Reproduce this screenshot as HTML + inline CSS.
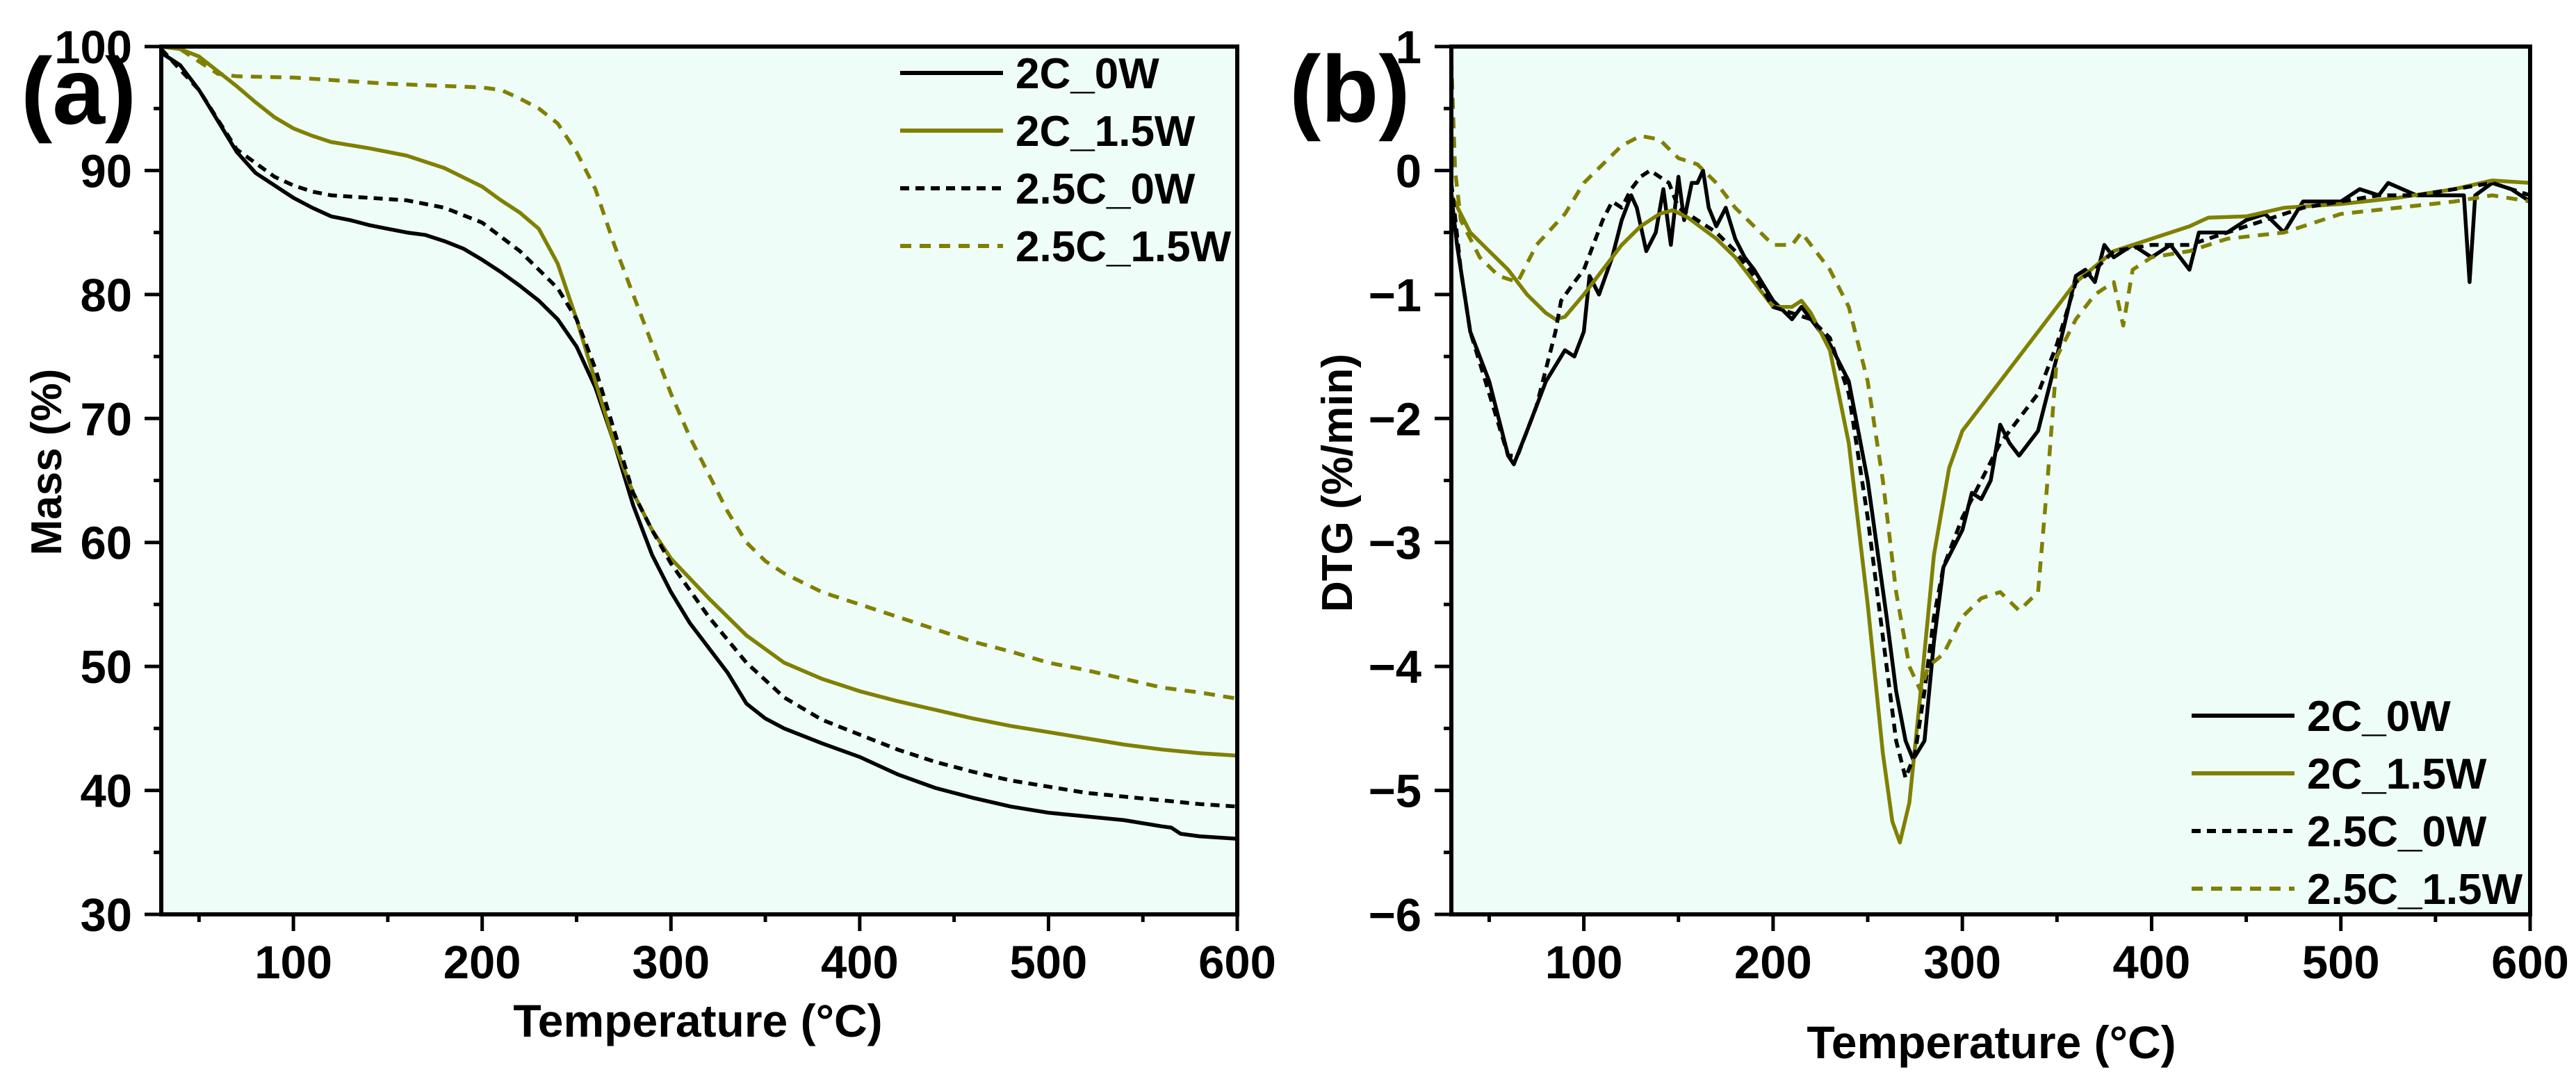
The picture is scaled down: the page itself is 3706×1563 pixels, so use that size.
<!DOCTYPE html>
<html><head><meta charset="utf-8">
<style>
html,body{margin:0;padding:0;background:#fff;}
svg{display:block;font-family:"Liberation Sans",Arial,sans-serif;font-weight:bold;}
</style></head>
<body>
<svg id="fig" width="3706" height="1563" viewBox="0 0 3706 1563" xmlns="http://www.w3.org/2000/svg">
<g id="pa"></g>
<g id="pb"></g>
</svg>
<script>
// ---------- Panel (a) data: Mass (%) vs Temperature ----------
const aT_2C0W = [30,40,50,60,70,80,90,100,110,120,130,140,150,160,170,180,190,200,210,220,230,240,250,260,270,280,290,300,310,320,330,340,350,360,380,400,420,440,460,480,500,520,540,560,565,570,580,600];
const aV_2C0W = [99.5,98.5,96.5,94,91.5,89.8,88.8,87.8,87,86.3,86,85.6,85.3,85,84.8,84.3,83.7,82.8,81.8,80.7,79.5,78,75.8,72.5,68,63,59,56,53.5,51.5,49.5,47,45.8,45,43.8,42.7,41.3,40.2,39.4,38.7,38.2,37.9,37.6,37.1,37,36.5,36.3,36.1];
const aT_2C15W = [30,40,50,60,70,80,90,100,110,120,140,160,180,200,210,220,230,240,250,260,270,280,290,300,320,340,360,380,400,420,440,460,480,500,520,540,560,580,600];
const aV_2C15W = [100,99.8,99.2,98,96.8,95.5,94.3,93.4,92.8,92.3,91.8,91.2,90.2,88.7,87.6,86.6,85.3,82.5,78,73,68,64,61,58.7,55.5,52.5,50.3,49,48,47.2,46.5,45.8,45.2,44.7,44.2,43.7,43.3,43,42.8];
const aT_25C0W = [30,50,70,90,100,110,120,140,160,180,200,220,240,250,260,270,280,290,300,320,340,360,380,400,420,440,460,480,500,520,540,560,580,600];
const aV_25C0W = [99.8,96.5,91.7,89.5,88.8,88.3,88,87.8,87.6,87,85.8,83.5,80.5,78,74,69,64,61,58.3,54,50.3,47.5,45.7,44.5,43.3,42.3,41.5,40.8,40.3,39.8,39.5,39.2,38.9,38.7];
const aT_25C15W = [30,40,50,60,70,100,150,200,210,220,230,240,250,260,270,280,290,300,310,320,330,340,350,360,380,400,420,440,460,480,500,520,540,560,580,600];
const aV_25C15W = [100,99.8,98.8,97.8,97.6,97.5,97,96.7,96.5,95.8,95,93.8,91.5,88.5,84,80,76,72,68.5,65.5,62.5,60,58.5,57.5,56,55,54,53,52,51.2,50.3,49.7,49,48.3,47.9,47.4];
const aXTicks = [100,200,300,400,500,600];
const aYTicks = [30,40,50,60,70,80,90,100];

// ---------- Panel (b) data: DTG (%/min) vs Temperature ----------
const bT_2C0W = [30,33,40,50,55,60,63,70,80,90,95,100,103,108,115,120,125,128,133,138,142,146,150,153,157,160,163,166,170,175,180,185,190,200,210,215,220,230,240,250,260,265,270,274,280,285,290,300,305,310,315,320,325,330,340,350,360,365,370,375,380,390,400,410,420,425,440,450,460,470,480,500,510,520,525,540,550,560,565,568,571,580,590,600];
const bV_2C0W = [-0.2,-0.6,-1.3,-1.7,-2.0,-2.3,-2.37,-2.1,-1.7,-1.45,-1.5,-1.3,-0.85,-1.0,-0.7,-0.4,-0.2,-0.3,-0.65,-0.5,-0.15,-0.6,-0.05,-0.4,-0.1,-0.1,0,-0.3,-0.45,-0.3,-0.55,-0.7,-0.8,-1.05,-1.2,-1.1,-1.2,-1.4,-1.7,-2.5,-3.6,-4.2,-4.6,-4.75,-4.6,-3.8,-3.2,-2.9,-2.6,-2.65,-2.5,-2.05,-2.2,-2.3,-2.1,-1.5,-0.85,-0.8,-0.9,-0.6,-0.7,-0.6,-0.7,-0.6,-0.8,-0.5,-0.5,-0.4,-0.35,-0.5,-0.25,-0.25,-0.15,-0.2,-0.1,-0.2,-0.2,-0.2,-0.2,-0.9,-0.2,-0.1,-0.15,-0.25];
const bT_2C15W = [30,40,50,60,70,80,85,90,100,110,120,130,140,147,155,170,180,190,200,210,215,220,230,240,250,258,263,267,272,278,285,293,300,320,340,360,380,400,420,430,450,470,500,530,560,580,600];
const bV_2C15W = [-0.2,-0.5,-0.65,-0.8,-1.0,-1.15,-1.2,-1.18,-1.0,-0.8,-0.6,-0.45,-0.35,-0.32,-0.38,-0.55,-0.7,-0.9,-1.1,-1.1,-1.05,-1.15,-1.45,-2.2,-3.5,-4.7,-5.25,-5.42,-5.1,-4.2,-3.1,-2.4,-2.1,-1.7,-1.3,-0.9,-0.65,-0.55,-0.45,-0.38,-0.37,-0.3,-0.27,-0.22,-0.15,-0.08,-0.1];
const bT_25C0W = [30,35,40,50,60,65,75,85,88,95,100,110,115,120,125,130,135,140,145,150,160,170,180,190,200,210,220,230,240,250,260,265,270,275,280,285,290,300,310,320,330,340,350,360,370,380,400,420,440,460,480,500,520,540,560,580,600];
const bV_25C0W = [-0.1,-0.8,-1.3,-1.8,-2.3,-2.3,-1.9,-1.3,-1.05,-0.9,-0.8,-0.4,-0.25,-0.3,-0.15,-0.05,0,-0.05,-0.1,-0.3,-0.4,-0.5,-0.65,-0.85,-1.1,-1.15,-1.2,-1.35,-1.8,-2.8,-4.0,-4.6,-4.9,-4.7,-4.2,-3.6,-3.2,-2.8,-2.5,-2.2,-2.0,-1.8,-1.4,-0.9,-0.8,-0.65,-0.6,-0.6,-0.5,-0.4,-0.3,-0.25,-0.2,-0.2,-0.15,-0.1,-0.2];
const bT_25C15W = [30,32,35,45,55,65,70,75,90,100,110,120,130,140,150,160,170,180,190,200,210,215,220,230,240,250,258,265,272,278,282,290,300,310,320,330,340,345,350,360,370,380,385,390,400,420,440,470,500,530,560,580,600];
const bV_25C15W = [0.9,0,-0.4,-0.7,-0.85,-0.9,-0.75,-0.6,-0.35,-0.1,0.05,0.2,0.28,0.25,0.1,0.05,-0.1,-0.3,-0.45,-0.6,-0.6,-0.5,-0.6,-0.8,-1.1,-1.7,-2.5,-3.4,-4.0,-4.2,-4.0,-3.9,-3.6,-3.45,-3.4,-3.55,-3.4,-2.5,-1.5,-1.2,-1.0,-0.9,-1.25,-0.8,-0.7,-0.65,-0.55,-0.5,-0.35,-0.3,-0.25,-0.2,-0.25];
const bXTicks = [100,200,300,400,500,600];
const bYTicks = [-6,-5,-4,-3,-2,-1,0,1];

const NS = "http://www.w3.org/2000/svg";
const OLIVE = "#808000";
function mk(parent, tag, attrs, text){
  const e = document.createElementNS(NS, tag);
  for (const k in attrs) e.setAttribute(k, attrs[k]);
  if (text !== undefined) e.textContent = text;
  parent.appendChild(e);
  return e;
}
function drawPanel(g, cfg){
  const L=cfg.left, R=cfg.right, T=67, B=1316;
  const sx = v => L + (v-30)/(600-30)*(R-L);
  const sy = v => B - (v-cfg.ymin)/(cfg.ymax-cfg.ymin)*(B-T);
  const bg = mk(g,'rect',{x:L,y:T,width:R-L,height:B-T,fill:'#eefdf8'});
  
  
  // series
  const series = cfg.series;
  for (const s of series){
    let d='';
    s.t.forEach((t,i)=>{ d += (i?'L':'M')+sx(t).toFixed(1)+','+sy(s.v[i]).toFixed(1); });
    const p = mk(g,'path',{d:d,fill:'none',stroke:s.color,'stroke-width':5.5,'stroke-linejoin':'round','stroke-dasharray':s.dash||'none'});
    
    
  }
  // frame
  const fr = mk(g,'rect',{x:L,y:T,width:R-L,height:B-T,fill:'none',stroke:'#000','stroke-width':6});
  
  
  // x ticks
  for (let v=50; v<=600; v+=50){
    const major = v%100===0;
    const x = sx(v);
    const tk = mk(g,'line',{x1:x,y1:B,x2:x,y2:B+(major?24:11),stroke:'#000','stroke-width':5});
    
    
  }
  cfg.xticks.forEach(v=>{
    const lb = mk(g,'text',{x:sx(v),y:1408,'font-size':67,'text-anchor':'middle'},String(v));
    
    
  });
  // y ticks
  for (let v=cfg.ymin; v<=cfg.ymax+1e-9; v+=cfg.minor){
    const vv = Math.round(v*1000)/1000;
    const major = Math.abs(vv/cfg.major - Math.round(vv/cfg.major))<1e-6;
    const y = sy(vv);
    const tk = mk(g,'line',{x1:L,y1:y,x2:L-(major?24:11),y2:y,stroke:'#000','stroke-width':5});
    
    
  }
  cfg.yticks.forEach(v=>{
    const lb = mk(g,'text',{x:cfg.ylabX,y:sy(v)+24,'font-size':67,'text-anchor':'end'},v<0?'\u2212'+Math.abs(v):String(v));
    
    
  });
  // titles
  const xt = mk(g,'text',{x:cfg.xtX,y:cfg.xtY,'font-size':66,'text-anchor':'middle'},'Temperature (\u00B0C)');
  
  
  const yt = mk(g,'text',{x:0,y:0,'font-size':62,'text-anchor':'middle',transform:'translate('+cfg.ytX+','+cfg.ytY+') rotate(-90)'},cfg.ytitle);
  
  
  const pl = mk(g,'text',{x:cfg.plX,y:cfg.plY,'font-size':136},cfg.panel);
  
  
  // legend
  series.forEach((s,i)=>{
    const y = cfg.legY + i*83;
    const lg = mk(g,'g',{});
    
    
    mk(lg,'line',{x1:cfg.legX,y1:y,x2:cfg.legX+148,y2:y,stroke:s.color,'stroke-width':6,'stroke-dasharray':s.dash||'none'});
    mk(lg,'text',{x:cfg.legX+166,y:y+22,'font-size':62},s.label);
  });
}
const common = (t1,v1,t2,v2,t3,v3,t4,v4)=>[
  {key:'2c-0w',label:'2C_0W',t:t1,v:v1,color:'#000'},
  {key:'2c-1-5w',label:'2C_1.5W',t:t2,v:v2,color:OLIVE},
  {key:'2-5c-0w',label:'2.5C_0W',t:t3,v:v3,color:'#000',dash:'13 9'},
  {key:'2-5c-1-5w',label:'2.5C_1.5W',t:t4,v:v4,color:OLIVE,dash:'16 12'}
];
drawPanel(document.getElementById('pa'),{
  left:232,right:1780,ymin:30,ymax:100,major:10,minor:5,xticks:aXTicks,yticks:aYTicks,
  ylabX:190,xtX:1004,xtY:1492,ytX:88,ytY:665,ytitle:'Mass (%)',panel:'(a)',plX:30,plY:178,
  legX:1295,legY:105,
  series:common(aT_2C0W,aV_2C0W,aT_2C15W,aV_2C15W,aT_25C0W,aV_25C0W,aT_25C15W,aV_25C15W)
});
drawPanel(document.getElementById('pb'),{
  left:2088,right:3640,ymin:-6,ymax:1,major:1,minor:0.5,xticks:bXTicks,yticks:bYTicks,
  ylabX:2045,xtX:2865,xtY:1523,ytX:1945,ytY:695,ytitle:'DTG (%/min)',panel:'(b)',plX:1855,plY:175,
  legX:3153,legY:1030,
  series:common(bT_2C0W,bV_2C0W,bT_2C15W,bV_2C15W,bT_25C0W,bV_25C0W,bT_25C15W,bV_25C15W)
});
</script>
</body></html>
